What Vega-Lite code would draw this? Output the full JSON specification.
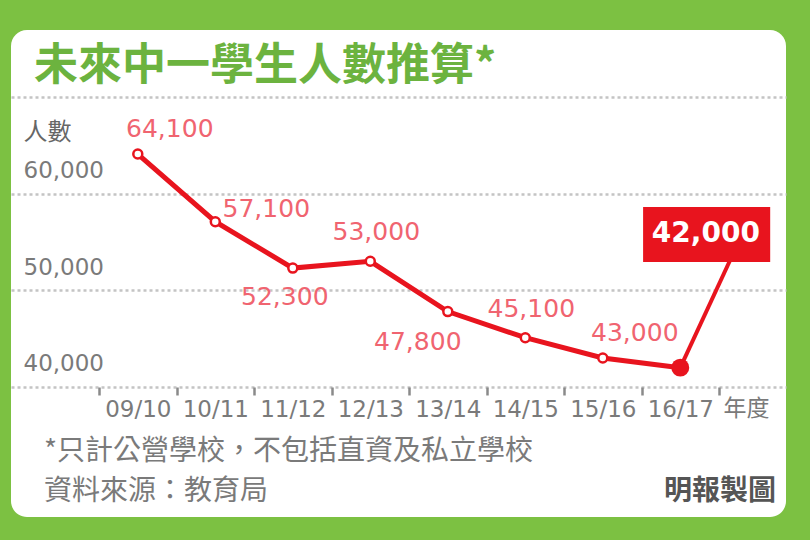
{
  "$schema": "https://vega.github.io/schema/vega-lite/v6.json",
  "width": 775,
  "height": 487,
  "autosize": {"type": "none"},
  "padding": {"left": 11, "top": 30, "right": 24, "bottom": 23},
  "background": "#7cc142",
  "title": {
    "text": "未來中一學生人數推算*",
    "anchor": "start",
    "frame": "group",
    "orient": "top",
    "offset": -59,
    "baseline": "top",
    "dx": 23,
    "font": "Noto Sans CJK TC",
    "fontSize": 44,
    "fontWeight": "bold",
    "color": "#6cb33f"
  },
  "data": {
    "values": [
      {"year": "09/10", "students": 64100},
      {"year": "10/11", "students": 57100},
      {"year": "11/12", "students": 52300},
      {"year": "12/13", "students": 53000},
      {"year": "13/14", "students": 47800},
      {"year": "14/15", "students": 45100},
      {"year": "15/16", "students": 43000},
      {"year": "16/17", "students": 42000}
    ]
  },
  "encoding": {
    "x": {
      "field": "year",
      "type": "nominal",
      "sort": null,
      "scale": {"type": "band", "paddingInner": 0, "paddingOuter": 1, "align": 0.568},
      "axis": {
        "orient": "bottom",
        "offset": -130,
        "domain": false,
        "grid": false,
        "tickBand": "extent",
        "tickSize": 8,
        "tickWidth": 2.5,
        "tickColor": "#8a8a8a",
        "labelAngle": 0,
        "labelFont": "DejaVu Sans",
        "labelFontSize": 23,
        "labelColor": "#7a7a7a",
        "labelPadding": 3,
        "title": "年度",
        "titleX": 712,
        "titleY": 21,
        "titleAngle": 0,
        "titleAlign": "left",
        "titleBaseline": "middle",
        "titleFont": "Noto Sans CJK TC",
        "titleFontSize": 23,
        "titleFontWeight": "normal",
        "titleColor": "#7a7a7a"
      }
    },
    "y": {
      "field": "students",
      "type": "quantitative",
      "scale": {"domain": [26550, 76930], "zero": false, "nice": false},
      "axis": {
        "values": [40000, 50000, 60000, 70000],
        "format": ",d",
        "labelExpr": "datum.value >= 70000 ? '' : datum.label",
        "domain": false,
        "ticks": false,
        "tickSize": 0,
        "grid": true,
        "gridColor": "#c4c4c4",
        "gridDash": [3, 3],
        "gridWidth": 2.5,
        "labelAlign": "left",
        "labelBaseline": "middle",
        "labelPadding": -12,
        "labelOffset": -23,
        "labelFlush": false,
        "labelOverlap": false,
        "labelFont": "DejaVu Sans",
        "labelFontSize": 23,
        "labelColor": "#7a7a7a",
        "title": "人數",
        "titleX": 12,
        "titleY": 102,
        "titleAngle": 0,
        "titleAlign": "left",
        "titleBaseline": "middle",
        "titleFont": "Noto Sans CJK TC",
        "titleFontSize": 24,
        "titleFontWeight": "normal",
        "titleColor": "#666666"
      }
    }
  },
  "layer": [
    {"mark": {"type": "line", "color": "#e8141e", "strokeWidth": 5}},
    {
      "transform": [{"filter": "datum.year == '16/17'"}],
      "mark": {"type": "rule", "color": "#e8141e", "strokeWidth": 4},
      "encoding": {
        "x2": {"datum": "16/17", "bandPosition": 1.165},
        "y2": {"datum": 53500}
      }
    },
    {
      "transform": [{"filter": "datum.year != '16/17'"}],
      "mark": {"type": "point", "shape": "circle", "filled": true, "fill": "white", "stroke": "#e8141e", "strokeWidth": 2.5, "size": 80, "opacity": 1}
    },
    {
      "transform": [{"filter": "datum.year == '16/17'"}],
      "mark": {"type": "point", "shape": "circle", "filled": true, "color": "#e8141e", "size": 320, "opacity": 1}
    },
    {
      "transform": [{"filter": "datum.year == '16/17'"}],
      "mark": {"type": "rect", "color": "#e8141e"},
      "encoding": {
        "x": {"datum": "16/17", "bandPosition": 0.02},
        "x2": {"datum": "16/17", "bandPosition": 1.66},
        "y": {"datum": 52931},
        "y2": {"datum": 58620}
      }
    },
    {
      "transform": [{"filter": "datum.year == '16/17'"}],
      "mark": {"type": "text", "color": "white", "font": "DejaVu Sans", "fontSize": 28, "fontWeight": "bold", "align": "center", "baseline": "middle"},
      "encoding": {
        "x": {"field": "year", "type": "nominal", "bandPosition": 0.83},
        "y": {"datum": 55827},
        "text": {"field": "students", "type": "quantitative", "format": ","}
      }
    },
    {
      "transform": [{"filter": "indexof(['09/10', '15/16'], datum.year) >= 0"}],
      "mark": {"type": "text", "color": "#f06470", "font": "DejaVu Sans", "fontSize": 25, "dx": 32, "dy": -25},
      "encoding": {"text": {"field": "students", "type": "quantitative", "format": ","}}
    },
    {
      "transform": [{"filter": "datum.year == '10/11'"}],
      "mark": {"type": "text", "color": "#f06470", "font": "DejaVu Sans", "fontSize": 25, "dx": 51, "dy": -13},
      "encoding": {"text": {"field": "students", "type": "quantitative", "format": ","}}
    },
    {
      "transform": [{"filter": "indexof(['12/13', '14/15'], datum.year) >= 0"}],
      "mark": {"type": "text", "color": "#f06470", "font": "DejaVu Sans", "fontSize": 25, "dx": 6, "dy": -29},
      "encoding": {"text": {"field": "students", "type": "quantitative", "format": ","}}
    },
    {
      "transform": [{"filter": "datum.year == '11/12'"}],
      "mark": {"type": "text", "color": "#f06470", "font": "DejaVu Sans", "fontSize": 25, "dx": -8, "dy": 29},
      "encoding": {"text": {"field": "students", "type": "quantitative", "format": ","}}
    },
    {
      "transform": [{"filter": "datum.year == '13/14'"}],
      "mark": {"type": "text", "color": "#f06470", "font": "DejaVu Sans", "fontSize": 25, "dx": -30, "dy": 30},
      "encoding": {"text": {"field": "students", "type": "quantitative", "format": ","}}
    },
    {
      "transform": [{"filter": "datum.year == '09/10'"}],
      "mark": {"type": "text", "color": "#7a7a7a", "font": "Noto Sans CJK TC", "fontSize": 28, "align": "left", "baseline": "middle"},
      "encoding": {
        "x": {"datum": "09/10", "bandPosition": -0.71},
        "y": {"datum": 33280},
        "text": {"value": "*只計公營學校，不包括直資及私立學校"}
      }
    },
    {
      "transform": [{"filter": "datum.year == '09/10'"}],
      "mark": {"type": "text", "color": "#7a7a7a", "font": "Noto Sans CJK TC", "fontSize": 28, "align": "left", "baseline": "middle"},
      "encoding": {
        "x": {"datum": "09/10", "bandPosition": -0.71},
        "y": {"datum": 29140},
        "text": {"value": "資料來源：教育局"}
      }
    },
    {
      "transform": [{"filter": "datum.year == '09/10'"}],
      "mark": {"type": "text", "color": "#555555", "font": "Noto Sans CJK TC", "fontSize": 28, "fontWeight": "bold", "align": "right", "baseline": "middle"},
      "encoding": {
        "x": {"datum": "16/17", "bandPosition": 1.735},
        "y": {"datum": 29140},
        "text": {"value": "明報製圖"}
      }
    }
  ],
  "config": {
    "view": {"fill": "white", "stroke": null, "cornerRadius": 16}
  }
}
